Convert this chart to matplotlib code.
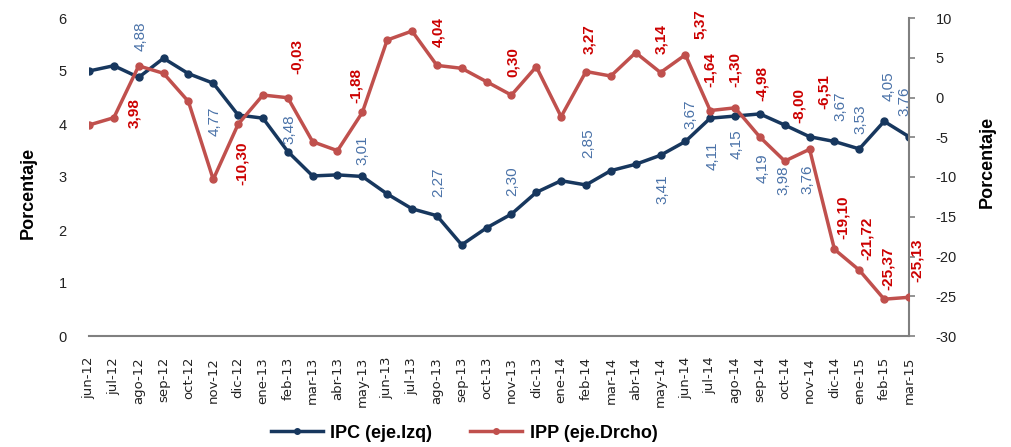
import matplotlib
matplotlib.use("Agg")
import matplotlib.pyplot as plt
from matplotlib import font_manager as fm

months = ["jun-12", "jul-12", "ago-12", "sep-12", "oct-12", "nov-12", "dic-12",
          "ene-13", "feb-13", "mar-13", "abr-13", "may-13", "jun-13", "jul-13",
          "ago-13", "sep-13", "oct-13", "nov-13", "dic-13", "ene-14", "feb-14",
          "mar-14", "abr-14", "may-14", "jun-14", "jul-14", "ago-14", "sep-14",
          "oct-14", "nov-14", "dic-14", "ene-15", "feb-15", "mar-15"]

ipc = [5.00, 5.10, 4.88, 5.24, 4.95, 4.77, 4.17, 4.11, 3.48, 3.02, 3.04, 3.01,
       2.68, 2.40, 2.27, 1.72, 2.04, 2.30, 2.71, 2.93, 2.85, 3.12, 3.24, 3.41,
       3.67, 4.11, 4.15, 4.19, 3.98, 3.76, 3.67, 3.53, 4.05, 3.76]

ipp = [-3.46, -2.54, 3.98, 3.04, -0.50, -10.30, -3.37, 0.31, -0.03, -5.56,
       -6.69, -1.88, 7.23, 8.36, 4.04, 3.67, 1.99, 0.30, 3.87, -2.41, 3.27,
       2.70, 5.64, 3.14, 5.37, -1.64, -1.30, -4.98, -8.00, -6.51, -19.10,
       -21.72, -25.37, -25.13]

# labelled points: index -> label offset in pixels (dx, dy)
ipc_label_offsets = {2: (2, 41), 5: (1, -38), 8: (2, 22), 11: (0, 26), 14: (1, 33),
                     17: (1, 33), 20: (2, 42), 23: (2, -34), 24: (5, 27), 25: (2, -38),
                     26: (2, -28), 27: (3, -54), 28: (-1, -55), 29: (-2, -43),
                     30: (6, 35), 31: (1, 30), 32: (4, 35), 33: (-5, 35)}
ipp_label_offsets = {2: (-5, -47), 5: (29, 16), 8: (9, 41), 11: (-6, 27), 14: (1, 33),
                     17: (1, 33), 20: (3, 32), 23: (1, 33), 24: (15, 31), 25: (0, 41),
                     26: (0, 38), 27: (2, 54), 28: (14, 56), 29: (14, 58),
                     30: (8, 32), 31: (8, 32), 32: (4, 31), 33: (8, 37)}

installed = {f.name for f in fm.fontManager.ttflist}
narrow = ['Liberation Sans Narrow', 'Liberation Sans'] if 'Liberation Sans Narrow' in installed else ['Liberation Sans']
base = ['Liberation Sans', 'DejaVu Sans']

plt.rcParams['font.family'] = base
plt.rcParams['axes.unicode_minus'] = False

BLUE = '#17375e'
RED = '#c0504d'
BLUE_LBL = '#4a72a8'
RED_LBL = '#cc0000'
GRAY = '#808080'

fig = plt.figure(figsize=(10.12, 4.47), dpi=100)
ax = fig.add_axes([89/1012, 1-336/447, (909-89)/1012, (336-18)/447])
ax2 = ax.twinx()

x = list(range(len(months)))
l1, = ax.plot(x, ipc, color=BLUE, lw=2.5, marker='o', ms=5, label='IPC (eje.Izq)', zorder=3)
l2, = ax2.plot(x, ipp, color=RED, lw=2.5, marker='o', ms=5, label='IPP (eje.Drcho)', zorder=3)

ax.set_xlim(0, len(months) - 1)
ax.set_ylim(0, 6)
ax2.set_ylim(-30, 10)
ax.set_yticks(range(0, 7))
ax2.set_yticks(range(-30, 11, 5))

for s in ['top', 'left', 'right']:
    ax.spines[s].set_visible(False)
ax.spines['bottom'].set_color(GRAY)
ax.spines['bottom'].set_linewidth(1.5)
for s in ['top', 'left', 'bottom']:
    ax2.spines[s].set_visible(False)
ax2.spines['right'].set_color(GRAY)
ax2.spines['right'].set_linewidth(1.5)

ax.set_xticks(x)
ax.set_xticklabels(months, rotation=90, fontsize=9.5, family=['DejaVu Sans'], color='#222222')
ax.tick_params(axis='x', length=0, pad=15)
ax.tick_params(axis='y', length=0, pad=16, labelsize=10.5, labelcolor='#222222')
ax2.tick_params(axis='y', length=4, width=1.2, color=GRAY, pad=15, labelsize=10.5, labelcolor='#222222')

ax.set_ylabel('Porcentaje', fontsize=13, fontweight='bold')
ax.yaxis.set_label_coords(-52/820, (336-193)/318)
ax2.set_ylabel('Porcentaje', fontsize=13, fontweight='bold', rotation=90)
ax2.yaxis.set_label_coords((979-89)/820, (336-162)/318)

def fmt(v):
    return f"{v:.2f}".replace('.', ',')

for i, (dx, dy) in ipc_label_offsets.items():
    ax.annotate(fmt(ipc[i]), (x[i], ipc[i]), xytext=(dx, dy), textcoords='offset pixels',
                rotation=90, ha='center', va='center', color=BLUE_LBL, fontsize=11,
                family=narrow, zorder=5)
for i, (dx, dy) in ipp_label_offsets.items():
    ax2.annotate(fmt(ipp[i]), (x[i], ipp[i]), xytext=(dx, dy), textcoords='offset pixels',
                 rotation=90, ha='center', va='center', color=RED_LBL, fontsize=11,
                 fontweight='bold', family=narrow, zorder=5)

leg = fig.legend([l1, l2], ['IPC (eje.Izq)', 'IPP (eje.Drcho)'], loc='center',
                 bbox_to_anchor=(464/1012, 1-433/447), ncol=2, frameon=False,
                 prop={'family': narrow, 'weight': 'bold', 'size': 13},
                 handlelength=2.9, columnspacing=2.1, handletextpad=0.4, markerscale=0.8)

fig.savefig('out.png', dpi=100)
